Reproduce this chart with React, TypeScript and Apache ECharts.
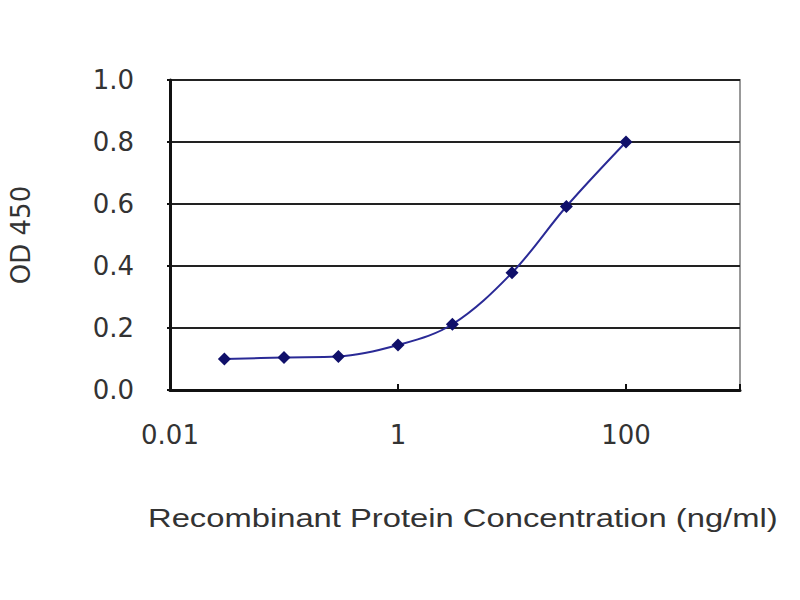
import React, { useEffect, useRef } from "react";
import * as echarts from "echarts";

const concentrations = [0.03, 0.1, 0.3, 1, 3, 10, 30, 100];
const odValues = [0.1, 0.105, 0.108, 0.145, 0.212, 0.378, 0.592, 0.8];
const yTicks = [0, 0.2, 0.4, 0.6, 0.8, 1.0];
const xLabels = ["0.01", "1", "100"];
const xTitle = "Recombinant Protein Concentration (ng/ml)";
const yTitle = "OD 450";

export default function App() {
  const ref = useRef<HTMLDivElement>(null);
  useEffect(() => {
    if (!ref.current) return;
    const chart = echarts.init(ref.current, null, { renderer: "svg" });
    const font = "DejaVu Sans, sans-serif";
    chart.setOption({
      animation: false,
      backgroundColor: "#ffffff",
      graphic: [
        {
          type: "text",
          x: 148,
          y: 518,
          scaleX: 1.31,
          style: {
            text: xTitle,
            font: "25px 'Liberation Sans', Arial, sans-serif",
            fill: "#333",
            verticalAlign: "middle",
            align: "left",
          },
        },
      ],
      grid: {
        left: 168,
        top: 80,
        width: 572,
        height: 310,
        show: true,
        borderColor: "#999",
        borderWidth: 2,
        backgroundColor: "#fff",
      },
      xAxis: {
        type: "log",
        logBase: 100,
        min: 0.01,
        max: 1000,
        axisLine: { show: true, lineStyle: { color: "#111", width: 3 } },
        axisTick: { show: true, inside: true, length: 6, lineStyle: { color: "#111", width: 2 } },
        splitLine: { show: false },
        axisLabel: {
          margin: 32,
          fontFamily: font,
          fontSize: 26,
          color: "#333",
          formatter: (v: number) => {
            const s = String(Number(v.toPrecision(3)));
            return xLabels.includes(s) ? s : "";
          },
        },
      },
      yAxis: {
        type: "value",
        min: 0,
        max: 1,
        interval: 0.2,
        name: yTitle,
        nameLocation: "middle",
        nameGap: 136,
        nameRotate: 90,
        nameTextStyle: { fontFamily: font, fontSize: 26, color: "#333" },
        axisLine: { show: true, lineStyle: { color: "#111", width: 3 } },
        axisTick: { show: true, length: 3, lineStyle: { color: "#111", width: 2 } },
        splitLine: { show: true, lineStyle: { color: "#222", width: 2 } },
        axisLabel: {
          margin: 36,
          fontFamily: font,
          fontSize: 26,
          color: "#333",
          formatter: (v: number) => {
            const t = yTicks.find((y) => Math.abs(y - v) < 1e-6);
            return t === undefined ? "" : t.toFixed(1);
          },
        },
      },
      series: [
        {
          type: "line",
          data: concentrations.map((c, i) => [c, odValues[i]]),
          smooth: 0.35,
          symbol: "diamond",
          symbolSize: 13,
          lineStyle: { color: "#2a2a96", width: 2 },
          itemStyle: { color: "#10106a" },
        },
      ],
    });
    return () => chart.dispose();
  }, []);
  return (
    <div
      ref={ref}
      style={{ position: "fixed", left: 0, top: 0, width: 800, height: 600, background: "#fff" }}
    />
  );
}
